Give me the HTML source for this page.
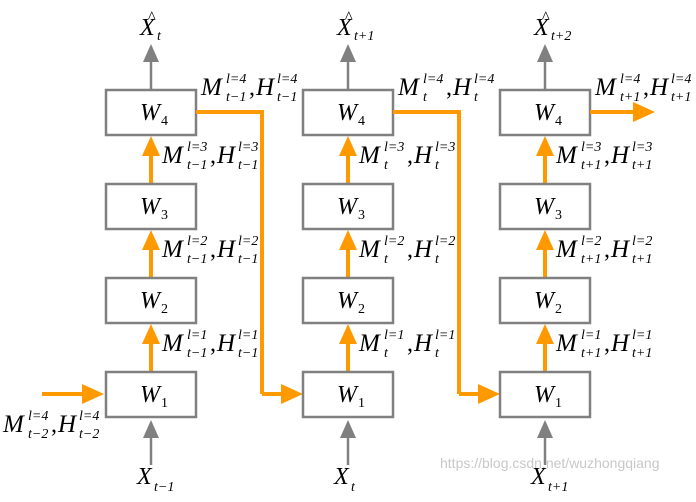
<!DOCTYPE html>
<html><head><meta charset="utf-8"><style>
html,body{margin:0;padding:0;background:#fff;}
svg{display:block;font-family:"Liberation Serif",serif;font-style:italic;}
</style></head><body>
<svg id="s" width="696" height="502" viewBox="0 0 696 502" xmlns="http://www.w3.org/2000/svg">
<g id="g"></g>
<text x="440" y="468" font-family="Liberation Sans,sans-serif" font-style="normal" font-size="14" fill="#c8c8c8">https://blog.csdn.net/wuzhongqiang</text>
</svg>
<script>
var g=document.getElementById('g'),h='';
var OR='#ff9900',GR='#808080';
function box(x,y,n){h+='<rect x="'+x+'" y="'+y+'" width="90" height="45" fill="#fff" stroke="'+GR+'" stroke-width="2.5"/>';
h+='<text x="'+(x+34)+'" y="'+(y+30)+'" font-size="24">W</text><text x="'+(x+55)+'" y="'+(y+35)+'" font-size="14" font-style="normal">'+n+'</text>';}
function upO(x,y1,y2){h+='<line x1="'+x+'" y1="'+y1+'" x2="'+x+'" y2="'+(y2+18)+'" stroke="'+OR+'" stroke-width="4"/><polygon points="'+(x-9)+','+(y2+20)+' '+(x+9)+','+(y2+20)+' '+x+','+(y2)+'" fill="'+OR+'"/>';}
function upG(x,y1,y2){h+='<line x1="'+x+'" y1="'+y1+'" x2="'+x+'" y2="'+(y2+14)+'" stroke="'+GR+'" stroke-width="2.5"/><polygon points="'+(x-8)+','+(y2+18)+' '+(x+8)+','+(y2+18)+' '+x+','+(y2)+'" fill="'+GR+'"/>';}
function rtO(x1,x2,y){h+='<line x1="'+x1+'" y1="'+y+'" x2="'+(x2-18)+'" y2="'+y+'" stroke="'+OR+'" stroke-width="4"/><polygon points="'+(x2-22)+','+(y-10)+' '+(x2-22)+','+(y+10)+' '+x2+','+y+'" fill="'+OR+'"/>';}
function lab(x,y,sup,sub){
 h+='<text x="'+x+'" y="'+y+'" font-size="25">M</text>';
 h+='<text x="'+(x+25)+'" y="'+(y-12)+'" font-size="14">'+sup+'</text>';
 h+='<text x="'+(x+25)+'" y="'+(y+6)+'" font-size="14">'+sub+'</text>';
 h+='<text x="'+(x+48)+'" y="'+y+'" font-size="24" font-style="normal">,</text>';
 h+='<text x="'+(x+55)+'" y="'+y+'" font-size="25">H</text>';
 h+='<text x="'+(x+76)+'" y="'+(y-12)+'" font-size="14">'+sup+'</text>';
 h+='<text x="'+(x+76)+'" y="'+(y+6)+'" font-size="14">'+sub+'</text>';
}
var subs=['t\u22121','t','t+1'],hsub=['t','t+1','t+2'];
for(var c=0;c<3;c++){
 var bx=106+197*c,cx=bx+45;
 upG(cx,90,44);
 upG(cx,465,420);
 upO(cx,278,230);upO(cx,184,136);upO(cx,372,324);
 box(bx,90,4);box(bx,184,3);box(bx,278,2);box(bx,372,1);
 lab(bx+95,95,'l=4',subs[c]);
 lab(bx+56,163,'l=3',subs[c]);
 lab(bx+56,257,'l=2',subs[c]);
 lab(bx+56,351,'l=1',subs[c]);
 h+='<text x="'+(cx-11)+'" y="35" font-size="24">X</text><text x="'+(cx-3)+'" y="22" font-size="16" font-style="normal">^</text><text x="'+(cx+6)+'" y="40" font-size="14">'+hsub[c]+'</text>';
 h+='<text x="'+(cx-14)+'" y="484" font-size="24">X</text><text x="'+(cx+3)+'" y="491" font-size="14">'+subs[c]+'</text>';
 if(c<2){var vx=bx+156;
  h+='<polyline points="'+(bx+90)+',112 '+vx+',112 '+vx+',394" fill="none" stroke="'+OR+'" stroke-width="4"/>';
  rtO(vx,bx+197,394);
 } else rtO(590,655,112);
}
rtO(42,104,394);
lab(3,432,'l=4','t\u22122');
g.innerHTML=h;
</script>
</body></html>
